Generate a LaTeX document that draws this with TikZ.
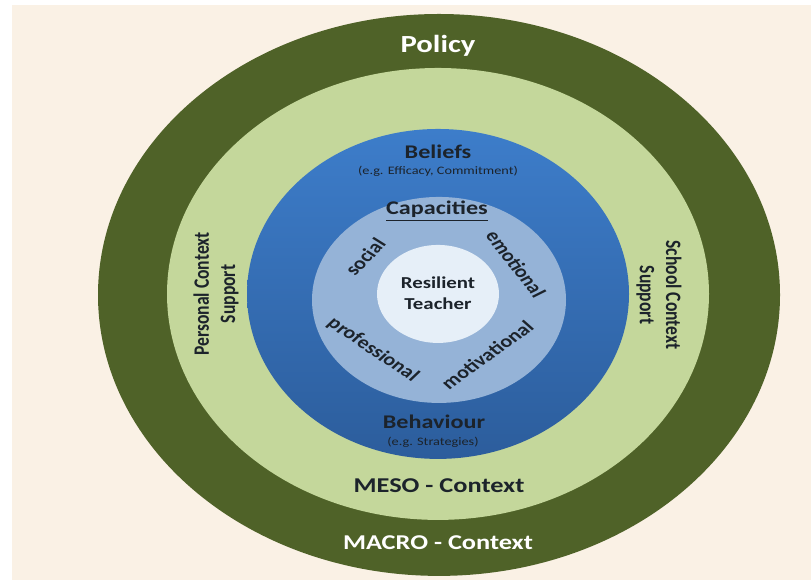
\documentclass[tikz,border=0pt]{standalone}
\usepackage{fontspec}
\setmainfont{Carlito}

\definecolor{paper}{HTML}{FAF1E5}
\definecolor{macro}{HTML}{4F6228}
\definecolor{meso}{HTML}{C4D79B}
\definecolor{belieftop}{HTML}{3D7DCA}
\definecolor{beliefbottom}{HTML}{2C5D9C}
\definecolor{capacity}{HTML}{95B3D7}
\definecolor{core}{HTML}{E6EFF8}
\definecolor{ink}{HTML}{1C232B}

\tikzset{
        ringtitle/.style={font=\bfseries\fontsize{12}{14}\selectfont},
        layertitle/.style={font=\bfseries\fontsize{11}{13}\selectfont, text=ink},
        example/.style={font=\fontsize{6.5}{8}\selectfont, text=ink},
        capword/.style={font=\bfseries\fontsize{10}{12}\selectfont, text=ink},
        sidetext/.style={font=\bfseries\fontsize{10}{12}\selectfont, text=ink, align=center}
}

\begin{document}
\begin{tikzpicture}[xscale=1.25, x=0.016cm, y=-0.02cm, every node/.append style={transform shape}]
        \fill[white] (0,0) rectangle (811,580);
        \fill[paper] (12,5) rectangle (811,580);

        \fill[macro] (439,295) ellipse [x radius=341, y radius=281];
        \fill[meso] (438,294) ellipse [x radius=271, y radius=226];
        \shade[top color=belieftop, bottom color=beliefbottom] (438,294) ellipse [x radius=191, y radius=165];
        \fill[capacity] (439,300) ellipse [x radius=127, y radius=103];
        \fill[core] (438,294) ellipse [x radius=61, y radius=49];

        \node[ringtitle, font=\bfseries\fontsize{14}{16}\selectfont, text=white] (policy) at (438,46) {Policy};
        \node[ringtitle, text=white] (macroctx) at (438,543) {MACRO - Context};
        \node[ringtitle, text=ink] (mesoctx) at (439,486) {MESO - Context};

        \node[sidetext, rotate=90] (personal) at (216,294) {Personal Context\\Support};
        \node[sidetext, rotate=-90] (school) at (659,295) {School Context\\Support};

        \node[layertitle] (beliefs) at (438,152) {Beliefs};
        \node[example] (beliefseg) at (438,171) {(e.g. Efficacy, Commitment)};
        \node[layertitle] (behaviour) at (434,422) {Behaviour};
        \node[example] (behavioureg) at (433,442) {(e.g. Strategies)};

        \node[layertitle] (capacities) at (437,211) {\underline{Capacities}};
        \node[capword, rotate=52] (social) at (365,257) {social};
        \node[capword, rotate=-58] (emotional) at (516,264) {emotional};
        \node[capword, rotate=-40] (professional) at (373,350) {professional};
        \node[capword, rotate=42] (motivational) at (487,355) {motivational};

        \node[capword, font=\bfseries\fontsize{9.5}{12}\selectfont, align=center] (teacher) at (438,293) {Resilient\\Teacher};
\end{tikzpicture}
\end{document}
